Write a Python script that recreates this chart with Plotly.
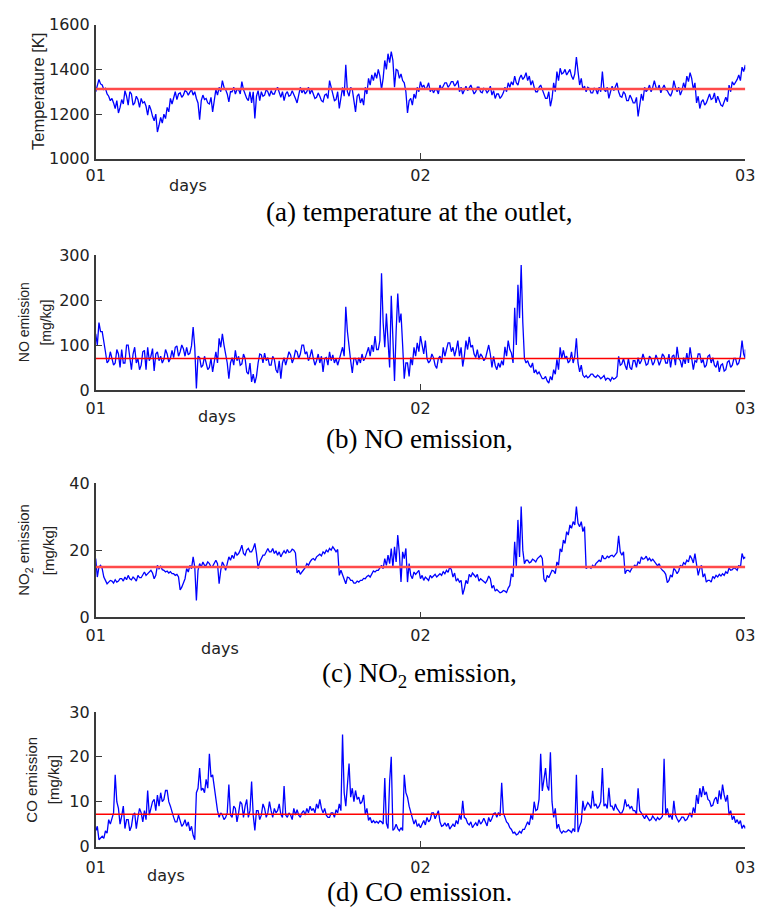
import numpy as np
import plotly.graph_objects as go

# ---------------- data ----------------
# Each series is read in 201 equal columns over the two days; for every column
# the "_main" list holds one extreme of the trace and "_other" the opposite
# extreme of the jitter band seen in that column.
day_tick_values = [0, 1, 2]
day_tick_labels = ["01", "02", "03"]

temperature_main = [
    1300, 1355, 1330, 1315, 1280, 1270, 1225, 1205, 1265, 1305,
    1240, 1290, 1250, 1265, 1270, 1255, 1195, 1220, 1170, 1120,
    1185, 1200, 1230, 1270, 1280, 1265, 1295, 1285, 1300, 1298,
    1285, 1270, 1175, 1285, 1270, 1245, 1210, 1310, 1320, 1350,
    1310, 1255, 1300, 1290, 1310, 1345, 1290, 1260, 1250, 1180,
    1305, 1300, 1285, 1300, 1305, 1290, 1320, 1275, 1260, 1300,
    1285, 1290, 1250, 1320, 1310, 1300, 1290, 1285, 1275, 1280,
    1255, 1290, 1350, 1300, 1265, 1225, 1320, 1420, 1280, 1310,
    1210, 1290, 1270, 1320, 1360, 1375, 1385, 1400, 1310, 1440,
    1470, 1480, 1320, 1395, 1380, 1340, 1205, 1270, 1290, 1320,
    1345,
    1330, 1320, 1300, 1295, 1310, 1330, 1325, 1340, 1330, 1345,
    1335, 1300, 1290, 1325, 1315, 1310, 1300, 1320, 1295, 1310,
    1305, 1285, 1270, 1290, 1280, 1320, 1340, 1345, 1370, 1330,
    1375, 1365, 1350, 1330, 1320, 1300, 1330, 1295, 1270, 1235,
    1340, 1390, 1405, 1385, 1375, 1400, 1355, 1455, 1330, 1310,
    1300, 1315, 1295, 1310, 1320, 1390, 1300, 1270, 1325, 1320,
    1300, 1275, 1290, 1260, 1270, 1250, 1190, 1290, 1320, 1310,
    1300, 1350, 1310, 1295, 1330, 1305, 1280, 1350, 1300, 1285,
    1340, 1370, 1385, 1310, 1250, 1225, 1265, 1250, 1290, 1270,
    1250, 1260, 1235, 1275, 1330, 1345, 1340, 1375, 1410, 1420,
]
temperature_other = [
    1330, 1335, 1310, 1290, 1260, 1250, 1260, 1230, 1245, 1280,
    1300, 1240, 1280, 1230, 1250, 1235, 1240, 1190, 1200, 1150,
    1160, 1180, 1210, 1245, 1300, 1290, 1275, 1305, 1285, 1310,
    1300, 1250, 1260, 1265, 1250, 1275, 1260, 1285, 1300, 1320,
    1290, 1300, 1320, 1310, 1290, 1310, 1270, 1300, 1300, 1280,
    1260, 1280, 1310, 1280, 1290, 1310, 1300, 1300, 1290, 1280,
    1305, 1270, 1290, 1295, 1290, 1320, 1310, 1270, 1295, 1260,
    1285, 1270, 1320, 1260, 1300, 1280, 1280, 1300, 1320, 1260,
    1280, 1250, 1240, 1290, 1330, 1350, 1360, 1370, 1360, 1400,
    1430, 1440, 1400, 1360, 1350, 1300, 1260, 1240, 1270, 1300,
    1320,
    1310, 1340, 1315, 1310, 1290, 1310, 1340, 1320, 1345, 1325,
    1350, 1320, 1310, 1305, 1330, 1290, 1320, 1300, 1315, 1295,
    1325, 1305, 1290, 1270, 1295, 1300, 1320, 1330, 1340, 1360,
    1355, 1385, 1370, 1350, 1300, 1320, 1310, 1270, 1300, 1270,
    1300, 1350, 1380, 1400, 1390, 1370, 1380, 1390, 1360, 1325,
    1320, 1295, 1315, 1290, 1300, 1310, 1320, 1300, 1305, 1340,
    1280, 1300, 1260, 1285, 1250, 1275, 1240, 1260, 1300, 1330,
    1320, 1320, 1330, 1315, 1310, 1290, 1300, 1320, 1320, 1305,
    1315, 1345, 1360, 1340, 1280, 1255, 1240, 1270, 1265, 1295,
    1280, 1240, 1260, 1255, 1300, 1330, 1355, 1350, 1390, 1400,
]

no_main = [
    125, 150, 130, 85, 65, 72, 60, 80, 90, 60,
    100, 45, 95, 70, 55, 88, 95, 75, 42, 85,
    75, 68, 80, 70, 72, 98, 85, 92, 95, 82,
    140, 3, 72, 55, 62, 50, 40, 85, 115, 125,
    80, 25, 72, 88, 75, 58, 70, 35, 18, 15,
    60, 78, 82, 72, 55, 68, 38, 25, 72, 70,
    78, 70, 85, 80, 100, 85, 75, 70, 65, 60,
    40, 72, 85, 78, 70, 68, 95, 185, 90, 38,
    70, 72, 80, 72, 95, 100, 120, 90, 260, 95,
    110, 210, 20, 215, 170, 25, 60, 72, 95, 105,
    120,
    80, 70, 65, 72, 48, 75, 95, 90, 105, 95,
    90, 75, 52, 110, 118, 100, 72, 68, 75, 70,
    100, 50, 55, 60, 65, 96, 110, 82, 183, 234,
    278, 70, 65, 50, 38, 35, 33, 25, 20, 30,
    45, 68, 95, 88, 75, 65, 60, 115, 40, 33,
    32, 30, 35, 28, 30, 28, 22, 25, 28, 26,
    75, 58, 55, 70, 45, 65, 72, 65, 68, 58,
    70, 62, 68, 65, 75, 60, 50, 78, 96, 65,
    72, 82, 95, 45, 62, 80, 68, 55, 78, 72,
    50, 40, 58, 45, 65, 55, 70, 60, 110, 70,
]
no_other = [
    100, 130, 110, 60, 85, 55, 90, 50, 60, 100,
    65, 80, 60, 45, 85, 45, 65, 92, 80, 65,
    60, 90, 62, 88, 95, 75, 100, 75, 78, 98,
    95, 75, 50, 75, 45, 70, 60, 60, 95, 100,
    60, 60, 55, 65, 55, 80, 40, 60, 35, 30,
    80, 60, 65, 55, 75, 45, 65, 60, 55, 85,
    60, 88, 70, 100, 80, 65, 90, 55, 80, 75,
    70, 55, 65, 60, 55, 80, 75, 130, 65, 70,
    55, 60, 65, 85, 75, 85, 90, 110, 150, 170,
    50, 100, 130, 150, 100, 60, 30, 55, 75, 85,
    100,
    110, 60, 80, 55, 70, 60, 75, 105, 85, 75,
    110, 95, 75, 90, 95, 80, 90, 80, 65, 85,
    80, 75, 45, 50, 55, 75, 90, 60, 100, 160,
    150, 60, 55, 60, 45, 40, 25, 30, 15, 22,
    35, 45, 70, 70, 60, 85, 75, 60, 55, 28,
    27, 35, 30, 33, 25, 32, 26, 20, 24, 30,
    55, 70, 45, 50, 65, 50, 58, 80, 55, 75,
    55, 78, 55, 80, 60, 80, 75, 55, 70, 50,
    58, 60, 70, 65, 80, 60, 50, 75, 60, 55,
    65, 55, 42, 62, 50, 70, 55, 75, 80, 90,
]

no2_main = [
    17.5, 15, 14.5, 11, 10.5, 10.8, 11.2, 10.8, 11.5, 12,
    12.5, 11.2, 11.5, 12.5, 11.8, 13.5, 13, 14, 11.5, 15.5,
    15.2, 14, 13.8, 13.6, 13, 12.8, 8.2, 10.5, 14.5, 15.5,
    18, 5, 16, 16.5, 15.5, 16, 15.2, 17, 10, 16.5,
    14, 18, 18.5, 19.5, 19, 21.5, 18.5, 20.5, 19.5, 22,
    14.5, 17.5, 18.5, 20.5, 19.5, 19, 18.5, 18, 19.8, 20.2,
    19.5, 20, 13.2, 12.8, 14, 16, 16.5, 17.5, 18, 18.8,
    19.5, 20, 20.5, 21, 19.5, 12.5, 12.8, 10, 11.8, 11,
    10.2, 10.5, 11, 11.5, 12.5, 13, 13.5, 14, 15.5, 17.5,
    18.5, 20.5, 21, 24.5, 10.5, 17.5, 10.5, 12.5, 13.5, 13.5,
    11.5,
    11, 11.5, 12.5, 12.3, 12, 13, 13.6, 14, 15, 12,
    10.8, 10.5, 6.8, 11, 12.8, 13.2, 12, 10.8, 11, 10.2,
    12.3, 8.7, 7.8, 7.8, 7.5, 7.8, 8.7, 13, 22.5, 29,
    33, 16, 17, 16.5, 17, 17.5, 18.4, 11.5, 12.5, 13,
    13.8, 16.5, 20.4, 23, 25.5, 27.5, 28.5, 33, 27, 25.5,
    14.5, 15, 15.5, 16, 17, 18.5, 17.5, 17.8, 18.5, 18.8,
    24.3, 18.5, 13, 14, 14.5, 15.5, 16.5, 18, 17.5, 17,
    16.8, 16.5, 15.3, 14.6, 13.6, 10.3, 12.6, 14.6, 13, 15.5,
    16.3, 17, 18.4, 16.2, 15.5, 14.5, 12, 10.5, 11, 12.2,
    12.5, 12.8, 13, 13.6, 14.7, 14.2, 14.5, 15.5, 19, 18,
]
no2_other = [
    12, 15.5, 12, 10, 11, 10.2, 10.5, 11.5, 10.8, 11.2,
    11.5, 12, 10.8, 11.8, 12.8, 12.5, 13.8, 13.2, 12.5, 14.5,
    14.2, 13.5, 13.2, 13, 12.5, 12, 9, 11.5, 13.5, 14.5,
    15, 14, 15, 15.5, 16.5, 15, 16.2, 16, 14, 15.5,
    16, 17, 17.5, 18.5, 20, 19, 20, 19.5, 20.5, 19,
    16.5, 18.5, 19.5, 19.5, 20.5, 19.8, 19.5, 19, 19, 19.3,
    20.3, 19.2, 14, 13.5, 14.8, 15.5, 17.2, 17, 18.5, 18.3,
    19, 19.5, 20, 20.3, 20.2, 14, 11, 12, 11, 10.2,
    10.8, 11, 11.6, 12.2, 12, 13.8, 14, 14.6, 14.5, 15.5,
    16, 15, 16.5, 19, 19.5, 20.5, 16, 11.5, 12.8, 14,
    12.5,
    12, 11, 11.8, 12.8, 12.6, 12.5, 13, 13.4, 14.2, 13.2,
    11.5, 11, 8.5, 10, 12, 12.6, 12.8, 11.5, 10.5, 11,
    11.5, 9.5, 8.3, 7.3, 8, 7.4, 9.5, 12, 15, 18,
    20, 17, 16.2, 17.3, 16.5, 18, 17.5, 10.5, 11.8, 14,
    13, 15.5, 19.5, 22, 24.5, 26.5, 27.5, 28, 28.5, 27,
    15, 14.6, 15, 16.5, 16.5, 17.5, 18.2, 18.3, 18, 19.3,
    19.5, 19.5, 14, 13.5, 15, 15, 16, 17.3, 18.2, 17.6,
    17.3, 16, 16, 14, 12.8, 11, 12, 14, 13.8, 15,
    15.8, 16.5, 17.5, 19, 12.5, 15.5, 13, 11, 10.5, 11.6,
    12, 12.3, 12.5, 13, 14, 14.8, 14, 14.8, 17.5, 17.5,
]

co_main = [
    3.5, 1.5, 2.3, 3.5, 6, 6.5, 16, 8.5, 6.8, 4,
    6, 4.5, 7.5, 6.5, 7.5, 8, 12.5, 8.5, 10.5, 11.5,
    12, 10.5, 12.5, 9, 6.5, 5.5, 5.5, 5, 4.5, 3.5,
    2.5, 12, 17.5, 13, 15, 20.7, 16, 10, 6.5, 7,
    6.5, 13.8, 6.5, 8.5, 7.5, 9.5, 9, 6.5, 14.5, 3.6,
    8, 7, 8.5, 7.5, 8, 8.5, 8, 7.2, 13.5, 6.5,
    7, 8.5, 8.2, 6.5, 8, 8.5, 9, 8.5, 9.5, 10.5,
    7.5, 7, 6.5, 7.5, 8.2, 9.5, 25, 9, 18.5, 13,
    12.5, 11, 10, 7.2, 5.8, 5.3, 5.3, 5.2, 5.5, 15.3,
    4, 20, 4, 4, 4.2, 16, 11, 7.5, 5, 4.5,
    4.2,
    5.8, 6.5, 6, 7.5, 7.2, 5.5, 4.7, 4.5, 3.9, 5,
    5.8, 7, 10.2, 6.2, 4.8, 4.2, 5.3, 6, 5.5, 5.2,
    6.5, 6.3, 7.5, 7.6, 14.2, 6.5, 5.1, 3.8, 3.2, 2.8,
    3, 3.8, 5.5, 7, 10, 8.3, 20.7, 15.5, 13.5, 21,
    6.5, 4, 3.5, 3.5, 3.3, 3.5, 4, 16, 4.5, 10.2,
    9, 9.3, 12.4, 9.5, 9, 17.5, 9.5, 13.1, 9, 9.5,
    8, 7.5, 10.5, 9.3, 9, 8, 13, 7.5, 6.2, 6.5,
    6, 6.3, 6.5, 6.3, 19.6, 8.5, 7, 10.2, 6.2, 6,
    6.5, 6, 7.5, 8.7, 11.5, 13, 13.5, 12.2, 10.2, 9.2,
    11, 12.5, 13.8, 10, 7, 6, 5.3, 5, 4, 4,
]
co_other = [
    4.5, 2, 1.8, 3, 5, 7.5, 10, 5, 9, 6,
    3.5, 7, 4, 8.5, 5.5, 6, 7, 10, 8, 9,
    10, 12.5, 10, 7.5, 5.5, 7, 4.5, 6, 5.5, 4.5,
    1.5, 13, 12.5, 12, 13, 15.5, 13, 8, 7.5, 6,
    7.5, 7, 9, 5.5, 10, 6.5, 10.5, 8, 7, 8,
    6, 9.5, 6.5, 10, 6.5, 7.5, 9.5, 6.5, 7, 7.5,
    6, 7, 7, 7.5, 7, 7.5, 8, 7.5, 8.5, 8.5,
    8.5, 6.5, 7.5, 6.5, 7.5, 8, 12, 15, 11, 10,
    10.5, 9.5, 11.5, 8.5, 6.5, 5.8, 5.6, 5.7, 5, 5.2,
    14.6, 3.6, 5, 3.5, 3.6, 12, 9, 6, 6, 5,
    5,
    4.8, 5.5, 7.5, 6.2, 8, 4.5, 5.3, 5.2, 4.5, 4.4,
    5, 6, 6.5, 5.2, 5.5, 4.8, 4.6, 5, 6.3, 4.6,
    5.5, 7.3, 6.5, 6.8, 7.5, 5.5, 4.2, 3, 2.6, 3.4,
    3.8, 4.5, 4.8, 6, 8, 10.5, 12.4, 17.5, 12.5, 10,
    8.5, 5, 3, 3.2, 3.7, 3.1, 3.3, 3.2, 5.5, 8,
    9.8, 8.5, 9, 8.5, 10, 9, 8.5, 9, 8, 8.5,
    7.4, 8.3, 9, 8.5, 8, 7.2, 8, 6.8, 7, 5.8,
    6.8, 5.8, 6, 6.8, 7, 6.5, 6, 7, 5.5, 6.6,
    5.8, 6.7, 6.5, 7.5, 9.5, 11, 11.5, 10.5, 9, 10.5,
    9.5, 10.5, 11.5, 11.5, 8, 6.8, 6, 5.8, 4.8, 4.5,
]

mean_temperature = 1312
mean_no = 70
mean_no2 = 15
mean_co = 7.2

temperature_ticks = [1000, 1200, 1400, 1600]
no_ticks = [0, 100, 200, 300]
no2_ticks = [0, 20, 40]
co_ticks = [0, 10, 20, 30]

# ---------------- layout helpers ----------------
W, H = 766, 913


def px(x):
    return x / W


def py(y):
    return 1 - y / H


def zigzag(main, other):
    """Trace through both extremes of every column, in order."""
    n = len(main)
    t = np.linspace(day_tick_values[0], day_tick_values[-1], n)
    half = (t[1] - t[0]) / 2
    xs = np.empty(2 * n)
    ys = np.empty(2 * n)
    xs[0::2] = t
    xs[1::2] = np.minimum(t + half, day_tick_values[-1])
    ys[0::2] = main
    ys[1::2] = other
    return xs, ys


AX_L, AX_R = 88, 755
AXIS_COLOR = "#3a3a3a"
TICK_FONT = dict(family="DejaVu Sans", size=16, color="#222222")
TITLE_FAMILY = "Liberation Sans, Arial, sans-serif"
CAP_FONT = dict(family="Liberation Serif, Times New Roman, serif", size=27, color="#000000")

panels = [
    dict(main=temperature_main, other=temperature_other, mean=mean_temperature,
         ticks=temperature_ticks, top=16, bottom=153, red_w=2.6, red_c="#ff4a4a",
         titles=[("Temperature [K]", 28)], title_size=16.5,
         days=(183, 180), xlab_pad=1,
         caption="(a) temperature at the outlet,", cap_y=207),
    dict(main=no_main, other=no_other, mean=mean_no,
         ticks=no_ticks, top=251.5, bottom=389, red_w=1.6, red_c="#ff0000",
         titles=[("NO emission", 14), ("[mg/kg]", 37)], title_size=14,
         days=(213, 416), xlab_pad=3,
         caption="(b) NO emission,", cap_y=439),
    dict(main=no2_main, other=no2_other, mean=mean_no2,
         ticks=no2_ticks, top=484, bottom=621.3, red_w=2.6, red_c="#ff4a4a",
         titles=[("NO<sub>2</sub> emission", 15), ("[mg/kg]", 39)], title_size=15,
         days=(216, 653), xlab_pad=3,
         caption="(c) NO<sub>2</sub> emission,", cap_y=680),
    dict(main=co_main, other=co_other, mean=mean_co,
         ticks=co_ticks, top=718, bottom=855.3, red_w=1.6, red_c="#ff0000",
         titles=[("CO emission", 22), ("[mg/kg]", 44)], title_size=15,
         days=(160, 885), xlab_pad=5,
         caption="(d) CO emission.", cap_y=902),
]

fig = go.Figure()
annotations = []
layout = {}

for i, p in enumerate(panels, start=1):
    xa = "x" if i == 1 else f"x{i}"
    ya = "y" if i == 1 else f"y{i}"
    xs, ys = zigzag(p["main"], p["other"])
    fig.add_trace(go.Scatter(x=xs, y=ys, mode="lines",
                             line=dict(color="#0000ff", width=1.3),
                             xaxis=xa, yaxis=ya, showlegend=False,
                             hoverinfo="skip"))
    fig.add_trace(go.Scatter(x=[day_tick_values[0], day_tick_values[-1]],
                             y=[p["mean"], p["mean"]], mode="lines",
                             line=dict(color=p["red_c"], width=p["red_w"]),
                             xaxis=xa, yaxis=ya, showlegend=False,
                             hoverinfo="skip"))
    layout["xaxis" if i == 1 else f"xaxis{i}"] = dict(
        domain=[px(AX_L), px(AX_R)],
        range=[day_tick_values[0], day_tick_values[-1]],
        tickmode="array", tickvals=day_tick_values, ticktext=day_tick_labels,
        ticks="inside", ticklen=6, tickwidth=1.3, tickcolor=AXIS_COLOR,
        showline=True, linecolor=AXIS_COLOR, linewidth=1.6,
        showgrid=False, zeroline=False, tickfont=TICK_FONT,
        ticklabelstandoff=p["xlab_pad"],
        anchor=ya, fixedrange=True,
    )
    layout["yaxis" if i == 1 else f"yaxis{i}"] = dict(
        domain=[py(p["bottom"]), py(p["top"])],
        range=[p["ticks"][0], p["ticks"][-1]],
        tickmode="array", tickvals=p["ticks"],
        ticks="inside", ticklen=6, tickwidth=1.3, tickcolor=AXIS_COLOR,
        showline=True, linecolor=AXIS_COLOR, linewidth=1.6,
        showgrid=False, zeroline=False, tickfont=TICK_FONT,
        ticklabelstandoff=1,
        anchor=xa, fixedrange=True,
    )
    mid_y = (p["top"] + p["bottom"]) / 2
    for text, tx in p["titles"]:
        annotations.append(dict(
            text=text, xref="paper", yref="paper",
            x=px(tx), y=py(mid_y), xanchor="center", yanchor="middle",
            textangle=-90, showarrow=False,
            font=dict(family=TITLE_FAMILY, size=p["title_size"], color="#222222"),
        ))
    annotations.append(dict(
        text="days", xref="paper", yref="paper",
        x=px(p["days"][0]), y=py(p["days"][1]), xanchor="center", yanchor="middle",
        showarrow=False, font=TICK_FONT,
    ))
    annotations.append(dict(
        text=p["caption"], xref="paper", yref="paper",
        x=px(420), y=py(p["cap_y"]), xanchor="center", yanchor="middle",
        showarrow=False, font=CAP_FONT,
    ))

fig.update_layout(
    width=W, height=H,
    margin=dict(l=0, r=0, t=0, b=0),
    paper_bgcolor="white", plot_bgcolor="white",
    annotations=annotations,
    showlegend=False,
    **layout,
)

fig.write_html("out.html", config={"displayModeBar": False})
